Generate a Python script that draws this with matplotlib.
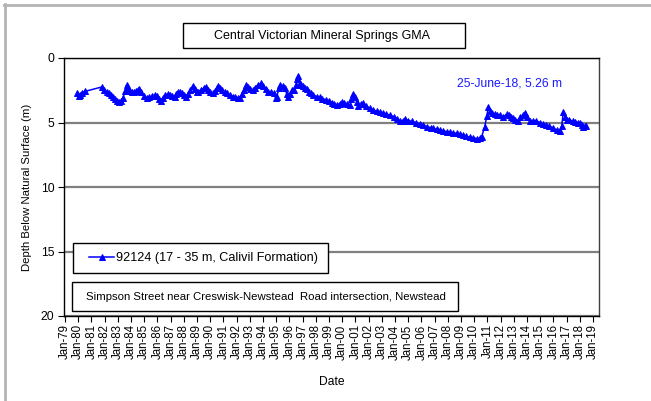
import matplotlib
matplotlib.use("Agg")
import matplotlib.pyplot as plt
from matplotlib.patches import Rectangle
from matplotlib.lines import Line2D

plt.rcParams['font.family'] = ['Liberation Sans', 'DejaVu Sans']

# ---- data (decimal year, depth below natural surface in m) ----
years = [
    1979.93, 1980.05, 1980.15, 1980.3, 1980.55, 1981.78,
    1981.95, 1982.15, 1982.35, 1982.5, 1982.65, 1982.8, 1982.95, 1983.1, 1983.25, 1983.4,
    1983.55, 1983.67, 1983.8, 1983.95, 1984.05, 1984.2, 1984.35, 1984.5, 1984.6, 1984.75,
    1985.0, 1985.2, 1985.4, 1985.6, 1985.8, 1985.95, 1986.1, 1986.3, 1986.45, 1986.6,
    1986.8, 1986.95, 1987.1, 1987.3, 1987.45, 1987.6, 1987.7, 1987.85, 1988.0, 1988.2,
    1988.35, 1988.5, 1988.7, 1988.85, 1989.0, 1989.1, 1989.3, 1989.5, 1989.7, 1989.85,
    1990.0, 1990.2, 1990.35, 1990.5, 1990.6, 1990.75, 1990.9, 1991.1, 1991.3, 1991.5,
    1991.75, 1991.9, 1992.1, 1992.25, 1992.4, 1992.55, 1992.75, 1992.9, 1993.05, 1993.25,
    1993.4, 1993.6, 1993.85, 1994.0, 1994.2, 1994.4, 1994.6, 1994.8, 1994.95, 1995.05,
    1995.2, 1995.3, 1995.5, 1995.65, 1995.8, 1995.9, 1996.05, 1996.2, 1996.35, 1996.5,
    1996.6, 1996.67, 1996.8, 1996.9, 1997.05, 1997.2, 1997.35, 1997.5, 1997.65, 1997.8,
    1998.07, 1998.3, 1998.5, 1998.8, 1999.0, 1999.2, 1999.4, 1999.6, 1999.8, 1999.96,
    2000.15, 2000.35, 2000.59, 2000.7, 2000.82, 2000.95, 2001.1, 2001.2, 2001.4, 2001.6,
    2001.8, 2002.1, 2002.35, 2002.6, 2002.85, 2003.1, 2003.35, 2003.6, 2003.9, 2004.15,
    2004.4, 2004.6, 2004.76, 2005.0, 2005.3, 2005.6, 2005.9, 2006.15, 2006.4, 2006.7,
    2006.9, 2007.15, 2007.4, 2007.65, 2007.9, 2008.15, 2008.4, 2008.67, 2008.9, 2009.15,
    2009.4, 2009.65, 2009.9, 2010.2, 2010.4, 2010.56, 2010.8, 2010.95, 2011.07, 2011.2,
    2011.35, 2011.55, 2011.75, 2011.95, 2012.2, 2012.45, 2012.6, 2012.75, 2012.9, 2013.1,
    2013.3, 2013.5, 2013.7, 2013.85, 2014.0, 2014.2, 2014.45, 2014.7, 2014.95, 2015.2,
    2015.45, 2015.7, 2015.95, 2016.25, 2016.5, 2016.62, 2016.75, 2016.88, 2017.0, 2017.2,
    2017.45, 2017.65, 2017.85, 2018.0, 2018.15, 2018.27, 2018.38, 2018.48,
]
depth = [
    2.70, 2.95, 2.90, 2.70, 2.58, 2.25,
    2.45, 2.60, 2.70, 2.85, 3.00, 3.15, 3.30, 3.42, 3.30, 3.10,
    2.55, 2.08, 2.30, 2.55, 2.65, 2.65, 2.55, 2.45, 2.43, 2.65,
    2.95, 3.10, 3.05, 2.95, 2.87, 2.95, 3.15, 3.35, 3.10, 2.90,
    2.79, 2.85, 2.95, 3.00, 2.80, 2.65, 2.60, 2.75, 2.90, 3.00,
    2.80, 2.45, 2.15, 2.40, 2.60, 2.65, 2.45, 2.35, 2.25, 2.45,
    2.60, 2.75, 2.55, 2.30, 2.20, 2.35, 2.50, 2.65, 2.75, 2.85,
    3.00, 3.05, 3.10, 3.12, 2.80, 2.45, 2.10, 2.25, 2.40, 2.50,
    2.30, 2.10, 1.96, 2.20, 2.40, 2.60, 2.65, 2.74, 3.10, 3.00,
    2.35, 2.10, 2.20, 2.30, 2.80, 3.00, 2.80, 2.50, 2.45, 2.10,
    1.65, 1.40, 1.90, 2.10, 2.20, 2.35, 2.40, 2.60, 2.75, 2.85,
    3.00, 3.05, 3.15, 3.25, 3.30, 3.45, 3.55, 3.64, 3.55, 3.38,
    3.50, 3.60, 3.68, 3.20, 2.79, 3.00, 3.40, 3.70, 3.60, 3.50,
    3.70, 3.90, 4.03, 4.12, 4.20, 4.29, 4.35, 4.42, 4.55, 4.70,
    4.90, 4.85, 4.75, 4.85, 4.92, 5.01, 5.10, 5.20, 5.32, 5.40,
    5.45, 5.53, 5.58, 5.65, 5.71, 5.75, 5.80, 5.84, 5.90, 6.00,
    6.08, 6.12, 6.18, 6.25, 6.22, 6.10, 5.32, 4.50, 3.82, 4.10,
    4.30, 4.35, 4.38, 4.42, 4.60, 4.34, 4.40, 4.55, 4.67, 4.80,
    4.86, 4.60, 4.40, 4.29, 4.55, 4.90, 4.88, 4.86, 5.00, 5.15,
    5.22, 5.30, 5.40, 5.60, 5.68, 5.30, 4.20, 4.55, 4.80, 4.80,
    4.88, 4.94, 5.00, 5.06, 5.20, 5.32, 5.30, 5.26,
]
tick_years = list(range(1979, 2020))
tick_labels = ["Jan-%02d" % (y % 100) for y in tick_years]
depth_ticks = [0, 5, 10, 15, 20]

series_label = "92124 (17 - 35 m, Calivil Formation)"
title_text = "Central Victorian Mineral Springs GMA"
site_text = "Simpson Street near Creswisk-Newstead  Road intersection, Newstead"
note_text = "25-June-18, 5.26 m"

W, H = 651, 401
fig = plt.figure(figsize=(W / 100, H / 100), dpi=100)


def fx(px):
    return px / W


def fy(py):
    return 1 - py / H


L, R, T, B = 64, 599, 58, 316
ax = fig.add_axes([fx(L), fy(B), fx(R - L), (B - T) / H])

blue = "#0000ff"
ax.plot(years, depth, color=blue, lw=1.1, marker="^", ms=3.8,
        markeredgewidth=0.7, label=series_label, zorder=3)

ax.set_xlim(1978.93, 2019.45)
ax.set_ylim(20, 0)
ax.set_yticks(depth_ticks)
ax.set_xticks(tick_years)
ax.set_xticklabels(tick_labels, rotation=90, fontsize=8.3)
ax.tick_params(axis="y", labelsize=8.7, length=4, width=0.8, direction="out", pad=3)
ax.tick_params(axis="x", length=4, width=0.8, direction="out", pad=2)
ax.yaxis.grid(True, color="#808080", lw=1.6)
ax.set_axisbelow(True)
for s in ax.spines.values():
    s.set_linewidth(1.0)
    s.set_color("black")
ax.spines["right"].set_color("#404040")

ax.set_xlabel("Date", fontsize=8.7, labelpad=12)
ax.set_ylabel("Depth Below Natural Surface (m)", fontsize=8.2, labelpad=6)

ax.text(2012.67, 2.0, note_text, color="#1a1aff", fontsize=8.75,
        ha="center", va="center")

# outer frame (left and top edges visible)
fig.add_artist(Line2D([fx(5), fx(5)], [fy(4), 0], color="#b4b4b4", lw=2, transform=fig.transFigure))
fig.add_artist(Line2D([fx(4), 1], [fy(5), fy(5)], color="#b4b4b4", lw=2, transform=fig.transFigure))

# title box
fig.add_artist(Rectangle((fx(183), fy(48)), fx(465 - 183), (48 - 23) / H,
                         fill=True, facecolor="white", edgecolor="black", lw=1,
                         transform=fig.transFigure))
fig.text(fx(322.5), fy(35.5), title_text, fontsize=9.0, ha="center", va="center")

# legend box (drawn inside the axes so the legend sits on top)
ax.add_artist(Rectangle((fx(73), fy(273)), fx(328 - 73), (273 - 243) / H,
                        fill=True, facecolor="white", edgecolor="black", lw=1,
                        transform=fig.transFigure, clip_on=False, zorder=4))
leg = ax.legend(loc="center left", bbox_to_anchor=(fx(89), fy(258.5)),
                bbox_transform=fig.transFigure, frameon=False, fontsize=9.1,
                handlelength=2.0, handletextpad=0.1, borderpad=0, borderaxespad=0,
                numpoints=1)
leg.set_zorder(6)

# site box
ax.add_artist(Rectangle((fx(72), fy(311)), fx(458 - 72), (311 - 282) / H,
                        fill=True, facecolor="white", edgecolor="black", lw=1,
                        transform=fig.transFigure, clip_on=False, zorder=4))
ax.text(fx(86), fy(296.5), site_text, fontsize=8.2, ha="left", va="center",
        transform=fig.transFigure, zorder=6)

fig.savefig("out.png", dpi=100)
